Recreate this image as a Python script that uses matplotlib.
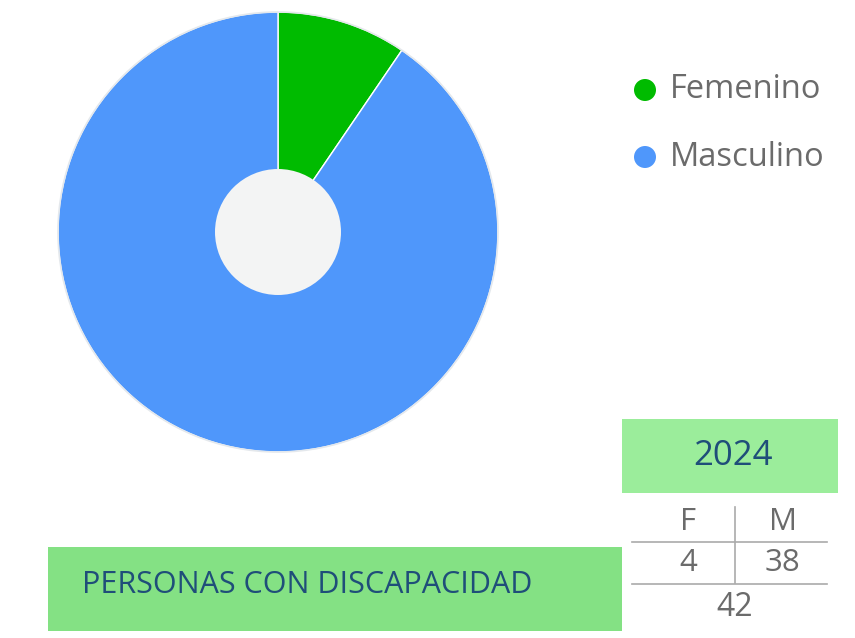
import matplotlib
matplotlib.use('Agg')
import matplotlib.pyplot as plt
from matplotlib.patches import Circle, Rectangle

plt.rcParams['font.family'] = ['Open Sans', 'DejaVu Sans']

# ── Data ────────────────────────────────────────────────────────────────
labels = ['Femenino', 'Masculino']
values = [4, 38]
colors = ['#00bb00', '#4f97fb']
year = '2024'
title = 'PERSONAS CON DISCAPACIDAD'
col_heads = ['F', 'M']

W, H = 855, 638
GRAY = '#6b6b6b'
NAVY = '#1f4e79'

fig = plt.figure(figsize=(W / 100, H / 100), dpi=100)
ax = fig.add_axes([0, 0, 1, 1])

# pixel-like coordinates, y measured from the top
def Y(py):
    return H - py

# ── Donut ───────────────────────────────────────────────────────────────
cx, cy, R = 278, Y(232), 220
ax.pie(values, colors=colors, startangle=90, counterclock=False,
       center=(cx, cy), radius=R, frame=True,
       wedgeprops=dict(edgecolor='white', linewidth=1.0))
ax.add_patch(Circle((cx, cy), R, fill=False, edgecolor='#e4e8ec', linewidth=1.2))
ax.add_patch(Circle((cx, cy), 63, facecolor='#f3f4f4', edgecolor='none', zorder=3))

# ── Legend ──────────────────────────────────────────────────────────────
for i, (lab, c) in enumerate(zip(labels, colors)):
    ly = Y(90 + 67 * i)
    ax.add_patch(Circle((645, ly), 11, facecolor=c, edgecolor='none'))
    ax.text(670, ly, lab, fontsize=23.5, color=GRAY, va='center', ha='left')

# ── Year header ─────────────────────────────────────────────────────────
ax.add_patch(Rectangle((622, Y(493)), 216, 74, facecolor='#9bed9b', edgecolor='none'))
ax.text(733, Y(456), year, fontsize=25, color=NAVY, ha='center', va='center')

# ── Small F / M table ───────────────────────────────────────────────────
line_kw = dict(color='#aaaaaa', linewidth=1.2)
ax.plot([735, 735], [Y(507), Y(583)], **line_kw)
ax.plot([632, 827], [Y(542), Y(542)], **line_kw)
ax.plot([632, 827], [Y(584), Y(584)], **line_kw)
for x, s in zip([688, 783], col_heads):
    ax.text(x, Y(522), s, fontsize=22.5, color=GRAY, ha='center', va='center')
for x, v in zip([688, 782], values):
    ax.text(x, Y(563), str(v), fontsize=22.5, color=GRAY, ha='center', va='center')
ax.text(735, Y(607), str(sum(values)), fontsize=23, color=GRAY, ha='center', va='center')

# ── Title box ───────────────────────────────────────────────────────────
ax.add_patch(Rectangle((48, Y(631)), 574, 84, facecolor='#84e184', edgecolor='none'))
ax.text(82, Y(585), title, fontsize=22, color=NAVY, ha='left', va='center')

ax.set_xlim(0, W)
ax.set_ylim(0, H)
ax.set_aspect('equal')
ax.axis('off')

fig.savefig('out.png', dpi=100, facecolor='white')
